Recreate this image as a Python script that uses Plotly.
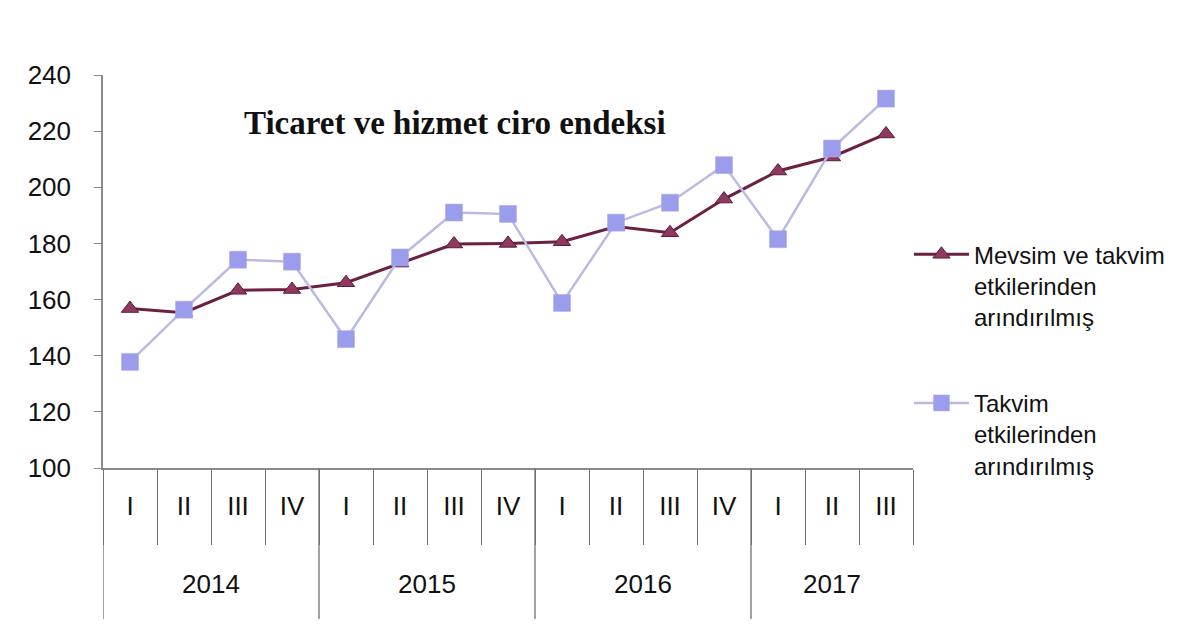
import plotly.graph_objects as go

categories = ["2014-I", "2014-II", "2014-III", "2014-IV",
              "2015-I", "2015-II", "2015-III", "2015-IV",
              "2016-I", "2016-II", "2016-III", "2016-IV",
              "2017-I", "2017-II", "2017-III"]
quarters = ["I", "II", "III", "IV",
            "I", "II", "III", "IV",
            "I", "II", "III", "IV",
            "I", "II", "III"]
year_labels = ["2014", "2015", "2016", "2017"]
year_centers = [1.5, 5.5, 9.5, 13]
year_bounds = [-0.5, 3.5, 7.5, 11.5]

mevsim = [156.8, 155.3, 163.3, 163.6, 166, 173, 179.8, 180, 180.6, 186, 183.8, 195.8, 205.8, 210.8, 219]
takvim = [137.8, 156.4, 174.2, 173.5, 145.9, 175, 191, 190.5, 158.8, 187.4, 194.5, 207.9, 181.5, 213.8, 231.6]

name1 = "Mevsim ve takvim<br>etkilerinden<br>arındırılmış"
name2 = "Takvim<br>etkilerinden<br>arındırılmış"

fig = go.Figure()
fig.add_trace(go.Scatter(
    x=categories, y=mevsim, name=name1, legendgroup="a", mode="lines+markers",
    line=dict(color="#6A2142", width=3),
    marker=dict(symbol="triangle-up", size=15, color="#8E3A60",
                line=dict(color="#5E1A3A", width=1)),
))
fig.add_trace(go.Scatter(
    x=categories, y=takvim, name=name2, legendgroup="b", mode="lines+markers",
    line=dict(color="#BABAE2", width=2.5),
    marker=dict(symbol="square", size=17, color="#9C9CEC",
                line=dict(color="#A9A9EE", width=0.5)),
))

axis_font = dict(family="Liberation Sans, Arial, sans-serif", size=26, color="#111111")

shapes = []
for b in year_bounds:
    shapes.append(dict(type="line", xref="x", yref="paper", x0=b, x1=b,
                       y0=0, y1=-0.384, line=dict(color="#707070", width=1.3)))

annotations = [dict(
    text="<b>Ticaret ve hizmet ciro endeksi</b>",
    xref="paper", yref="paper", x=0.434, y=0.878,
    xanchor="center", yanchor="middle", showarrow=False,
    font=dict(family="Liberation Serif, Times New Roman, serif", size=33, color="#111111"),
)]
for lbl, xc in zip(year_labels, year_centers):
    annotations.append(dict(text=lbl, xref="x", yref="paper", x=xc, y=-0.295,
                            xanchor="center", yanchor="middle", showarrow=False,
                            font=axis_font))

fig.update_layout(
    width=1200, height=636,
    margin=dict(l=103, r=287, t=75, b=168),
    paper_bgcolor="white", plot_bgcolor="white",
    font=dict(family="Liberation Sans, Arial, sans-serif", color="#111111"),
    showlegend=True,
    legend=dict(
        x=0.995, xanchor="left", y=0.6, yanchor="top",
        font=dict(size=24, color="#111111"),
        valign="top", tracegroupgap=52, itemwidth=55,
        bgcolor="rgba(0,0,0,0)",
    ),
    shapes=shapes,
    annotations=annotations,
)

fig.update_yaxes(
    range=[100, 240], dtick=20, tick0=100,
    tickformat="d",
    showgrid=False, zeroline=False,
    showline=True, linecolor="#8a8a8a", linewidth=1.5,
    ticks="outside", ticklen=7, tickcolor="#8a8a8a",
    ticklabelstandoff=18,
    tickfont=axis_font,
)
fig.update_xaxes(
    type="category", range=[-0.5, 14.5],
    tickmode="array", tickvals=categories, ticktext=quarters,
    tickson="boundaries",
    showgrid=False, zeroline=False,
    showline=True, linecolor="#8a8a8a", linewidth=1.5,
    ticks="outside", ticklen=75, tickcolor="#707070", tickwidth=1.2,
    ticklabelstandoff=14,
    tickfont=axis_font,
)

fig.write_html("out.html")
